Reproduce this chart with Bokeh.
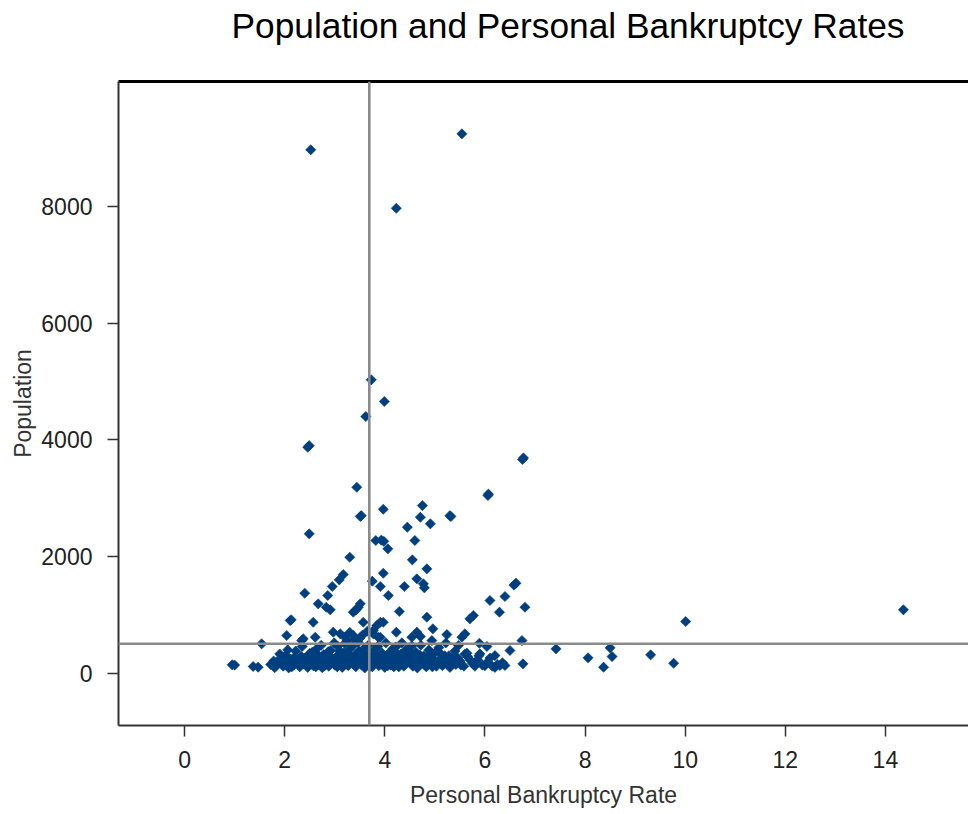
import numpy as np
from bokeh.plotting import figure
from bokeh.models import Range1d, Span, Title, LinearAxis, FixedTicker
from bokeh.embed import file_html
from bokeh.resources import INLINE

# ---- data ----
# sparse, clearly separated points
rate_sparse = [2.52, 5.54, 4.23, 3.73, 3.99, 3.62, 2.46, 2.49, 6.75, 6.77,
               3.44, 6.06, 6.07, 4.75, 3.97, 3.51, 3.53, 4.71, 5.32, 5.30,
               4.91, 4.45, 2.49, 3.82, 3.93, 3.98, 4.06, 4.60, 4.55, 3.30,
               4.84, 3.97, 3.17, 3.09, 4.64, 4.77, 4.79, 3.75, 3.91, 4.39,
               2.95, 6.62, 6.58, 2.40, 2.86, 4.07, 6.10, 6.40, 2.67, 2.91,
               2.83, 3.37, 3.47, 3.43, 3.51, 4.29, 6.29, 6.80, 5.70, 5.77,
               2.11, 2.13, 2.57, 3.57, 3.77, 3.91, 3.84, 3.97, 4.84, 4.96,
               5.24, 5.54, 5.60, 4.23, 4.64, 4.54, 4.71, 2.04, 2.34, 2.61,
               1.54, 3.91, 5.89, 6.04, 6.74, 6.76, 6.50, 5.64, 6.20, 5.90,
               0.95, 1.00, 1.37, 1.47, 6.40, 6.30, 7.42, 8.06, 8.37, 8.50,
               8.54, 9.31, 9.77, 10.01, 14.36, 4.94, 5.47, 3.11, 2.97, 3.37,
               2.37, 3.77, 3.87, 3.20, 3.30, 3.40, 3.55, 3.65, 3.25, 3.50]
pop_sparse = [8971, 9245, 7970, 5029, 4657, 4400, 3874, 3900, 3663, 3690,
              3188, 3046, 3070, 2874, 2811, 2686, 2700, 2674, 2686, 2700,
              2561, 2503, 2389, 2275, 2280, 2260, 2132, 2275, 1943, 1988,
              1789, 1714, 1692, 1600, 1618, 1532, 1464, 1577, 1486, 1486,
              1486, 1543, 1510, 1371, 1332, 1332, 1246, 1315, 1189, 1087,
              1131, 1046, 1131, 1087, 1189, 1058, 1046, 1131, 932, 989,
              903, 915, 874, 874, 732, 874, 818, 874, 960, 761,
              663, 617, 675, 703, 703, 617, 629, 646, 560, 617,
              504, 617, 514, 458, 560, 161, 389, 343, 303, 332,
              144, 140, 115, 103, 132, 132, 418, 264, 103, 435,
              286, 315, 171, 886, 1087, 560, 475, 675, 703, 646,
              589, 675, 617, 620, 700, 580, 650, 720, 560, 600]

# dense low band, first pass
rate_band_a = [1.72, 1.78, 1.80, 1.88, 1.92, 1.97, 2.02, 2.05, 2.08, 2.12,
               2.18, 2.22, 2.25, 2.30, 2.33, 2.38, 2.42, 2.46, 2.50, 2.53,
               2.57, 2.60, 2.64, 2.68, 2.71, 2.75, 2.78, 2.82, 2.85, 2.88,
               2.92, 2.96, 3.00, 3.03, 3.06, 3.09, 3.12, 3.15, 3.18, 3.21,
               3.24, 3.27, 3.30, 3.33, 3.36, 3.39, 3.42, 3.45, 3.48, 3.51,
               3.54, 3.57, 3.60, 3.63, 3.66, 3.69, 3.72, 3.75, 3.79, 3.82,
               3.85, 3.88, 3.91, 3.94, 3.97, 4.00, 4.04, 4.08, 4.12, 4.16,
               4.20, 4.24, 4.28, 4.32, 4.36, 4.40, 4.44, 4.48, 4.52, 4.56,
               4.60, 4.65, 4.70, 4.75, 4.80, 4.85, 4.90, 4.95, 5.00, 5.05,
               5.10, 5.15, 5.20, 5.25, 5.30, 5.35, 5.42, 5.50, 5.58, 5.66,
               5.75, 5.85, 5.95, 6.05, 6.15, 6.25]
pop_band_a = [150, 210, 95, 180, 260, 120, 310, 170, 90, 240,
              140, 380, 200, 110, 290, 160, 230, 100, 340, 190,
              130, 270, 420, 150, 210, 95, 320, 180, 250, 120,
              390, 200, 140, 280, 460, 170, 230, 100, 350, 190,
              260, 130, 420, 210, 160, 300, 110, 240, 380, 180,
              140, 270, 90, 330, 200, 150, 250, 110, 400, 190,
              280, 130, 220, 350, 160, 100, 300, 200, 140, 420,
              250, 170, 110, 330, 210, 150, 280, 380, 190, 120,
              240, 90, 310, 180, 140, 260, 200, 110, 350, 170,
              240, 130, 300, 190, 100, 260, 150, 210, 120, 280,
              170, 230, 140, 190, 120, 150]

# dense low band, second pass
rate_band_b = [1.82, 1.90, 1.99, 2.06, 2.14, 2.20, 2.28, 2.35, 2.40, 2.48,
               2.55, 2.62, 2.66, 2.73, 2.80, 2.87, 2.94, 2.99, 3.05, 3.10,
               3.14, 3.20, 3.25, 3.28, 3.35, 3.38, 3.44, 3.47, 3.52, 3.58,
               3.62, 3.67, 3.71, 3.77, 3.81, 3.86, 3.90, 3.96, 4.02, 4.06,
               4.10, 4.14, 4.18, 4.22, 4.26, 4.30, 4.34, 4.38, 4.42, 4.46,
               4.50, 4.54, 4.58, 4.62, 4.68, 4.72, 4.78, 4.83, 4.88, 4.93,
               4.98, 5.03, 5.08, 5.12, 5.18, 5.22, 5.28, 5.33, 5.40, 5.46,
               5.52, 5.60, 5.70, 5.80, 5.88, 6.00, 6.10, 6.20, 6.35]
pop_band_b = [130, 330, 210, 400, 110, 280, 170, 460, 260, 200,
              360, 110, 320, 480, 130, 370, 260, 520, 110, 380,
              300, 510, 150, 330, 460, 230, 170, 530, 300, 420,
              230, 480, 120, 330, 240, 460, 150, 280, 520, 130,
              360, 280, 110, 450, 320, 200, 520, 120, 400, 220,
              300, 470, 180, 360, 230, 480, 300, 110, 400, 330,
              230, 120, 440, 330, 200, 520, 300, 170, 380, 260,
              140, 330, 230, 120, 300, 130, 260, 100, 180]

rate = rate_sparse + rate_band_a + rate_band_b
population = pop_sparse + pop_band_a + pop_band_b

mean_rate = 3.69
ref_population = 505
x_ticks = [0, 2, 4, 6, 8, 10, 12, 14]
y_ticks = [0, 2000, 4000, 6000, 8000]

BLUE = "#003f7f"
FONT = "Liberation Sans"

p = figure(width=968, height=814, output_backend="svg", toolbar_location=None,
           x_range=Range1d(-1.32, 15.66), y_range=Range1d(-896, 10142),
           min_border_left=118, min_border_right=0, min_border_top=81,
           min_border_bottom=89, title=None)
p.outline_line_color = None
p.grid.visible = False
p.background_fill_color = "white"
p.border_fill_color = "white"

p.scatter(rate, population, marker="square", angle=np.pi / 4, size=7.2,
          fill_color=BLUE, line_color=BLUE, line_width=0.6)

p.add_layout(Span(location=mean_rate, dimension="height",
                  line_color="#8a8a8a", line_width=2.6))
p.add_layout(Span(location=ref_population, dimension="width",
                  line_color="#8a8a8a", line_width=2.6))

for ax in (p.xaxis[0], p.yaxis[0]):
    ax.axis_line_color = "#333333"
    ax.axis_line_width = 2
    ax.major_tick_line_color = "#333333"
    ax.major_tick_line_width = 1.5
    ax.major_tick_in = 0
    ax.major_tick_out = 11
    ax.minor_tick_line_color = None
    ax.major_label_text_font = FONT
    ax.major_label_text_font_size = "23px"
    ax.major_label_text_color = "#222222"
    ax.axis_label_text_font = FONT
    ax.axis_label_text_font_size = "23px"
    ax.axis_label_text_font_style = "normal"
    ax.axis_label_text_color = "#333333"

p.xaxis.ticker = FixedTicker(ticks=x_ticks)
p.yaxis.ticker = FixedTicker(ticks=y_ticks)
p.xaxis.axis_label = "Personal Bankruptcy Rate"
p.yaxis.axis_label = "Population"
p.xaxis.major_label_standoff = 14
p.xaxis.axis_label_standoff = 11
p.yaxis.major_label_standoff = 15
p.yaxis.axis_label_standoff = 2

# top border line, also used as spacer between frame and title
top_axis = LinearAxis(ticker=FixedTicker(ticks=[]), axis_line_color="black",
                      axis_line_width=3, major_tick_out=0, major_tick_in=0,
                      minor_tick_out=0, minor_tick_in=0, major_label_standoff=0,
                      major_label_text_font_size="0px",
                      axis_label="\u00a0", axis_label_text_font_size="20px",
                      axis_label_standoff=12)
p.add_layout(top_axis, "above")

title = Title(text="Population and Personal Bankruptcy Rates", align="left",
              offset=113, text_font=FONT, text_font_size="35.3px",
              text_font_style="normal", text_color="black", standoff=0)
p.add_layout(title, "above")

open("out.html", "w").write(file_html(p, INLINE))
